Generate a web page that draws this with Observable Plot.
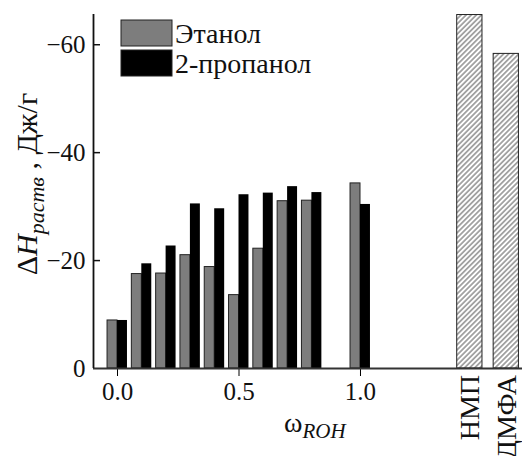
<!DOCTYPE html>
<html><head><meta charset="utf-8">
<script src="https://cdn.jsdelivr.net/npm/d3@7"></script>
<script src="https://cdn.jsdelivr.net/npm/@observablehq/plot@0.6"></script>
<style>
html,body{margin:0;padding:0;background:#fff}
svg{display:block}
</style>
</head><body><div id="chart"></div>
<script>
// ---- data ----
const omega = [0.0, 0.1, 0.2, 0.3, 0.4, 0.5, 0.6, 0.7, 0.8, 1.0];
const ethanol = [-8.9, -17.5, -17.6, -21.0, -18.8, -13.6, -22.2, -31.0, -31.1, -34.3];
const propanol = [-8.9, -19.4, -22.7, -30.5, -29.6, -32.2, -32.5, -33.7, -32.6, -30.4];
const solvents = ["НМП", "ДМФА"];
const solventValues = [-65.5, -58.3];
const seriesNames = ["Этанол", "2-пропанол"];
const xTicks = [0.0, 0.5, 1.0];
const yTicks = [0, -20, -40, -60];

// ---- layout ----
const W = 522, H = 456;
const FONT = "Liberation Serif";
const xDomain = [-0.0988, 1.6667];
const yDomain = [0, -65.6];
const bw = 0.041;          // width of one alcohol bar (x units)
const sHalf = 0.052;       // half width of solvent bars
const solvPos = solvents.map((s, i) => 1.45 + i * 0.15);

const ethData = omega.map((w, i) => ({w, v: ethanol[i]}));
const proData = omega.map((w, i) => ({w, v: propanol[i]}));
const solData = solvents.map((s, i) => ({s, p: solvPos[i], v: solventValues[i]}));

const minus = d => d === 0 ? "0" : "\u2212" + Math.abs(d);
const pxX = 7 * (xDomain[1] - xDomain[0]) / (W - 93);

const plot = Plot.plot({
  width: W, height: H,
  marginLeft: 93, marginRight: 0, marginTop: 14, marginBottom: 88,
  x: {domain: xDomain, ticks: xTicks, tickFormat: d3.format(".1f"), tickSize: 8, tickPadding: 6, label: null},
  y: {domain: yDomain, ticks: yTicks, tickFormat: minus, tickSize: 0, tickPadding: 8, label: null},
  marks: [
    Plot.rect(ethData, {x1: d => d.w - bw, x2: d => d.w, y1: 0, y2: "v", fill: "#7d7d7d", stroke: "#222", strokeWidth: 1}),
    Plot.rect(proData, {x1: d => d.w, x2: d => d.w + bw, y1: 0, y2: "v", fill: "#000"}),
    Plot.rect(solData, {x1: d => d.p - sHalf, x2: d => d.p + sHalf, y1: 0, y2: "v", fill: "url(#hatch)", stroke: "#222", strokeWidth: 1}),
    Plot.ruleY(yTicks.filter(d => d !== 0), {x1: xDomain[0], x2: xDomain[0] + pxX, stroke: "#111", strokeWidth: 1.5}),
    Plot.ruleY([0], {stroke: "#333", strokeWidth: 2}),
    Plot.ruleX([xDomain[0]], {y1: 0, y2: yDomain[1], stroke: "#111", strokeWidth: 1.8})
  ]
});
document.getElementById("chart").appendChild(plot);

const svg = d3.select(plot);
// plain presentation attributes only
svg.select("style").remove();
svg.attr("style", null).attr("class", null)
  .attr("font-family", FONT).attr("font-size", 24).attr("fill", "#111");
svg.insert("rect", ":first-child").attr("width", W).attr("height", H).attr("fill", "#fff");
const xs = plot.scale("x"), ys = plot.scale("y");
const defs = svg.insert("defs", ":first-child");
const pat = defs.append("pattern").attr("id", "hatch").attr("patternUnits", "userSpaceOnUse")
  .attr("width", 3.6).attr("height", 3.6).attr("patternTransform", "rotate(45)");
pat.append("rect").attr("width", 3.6).attr("height", 3.6).attr("fill", "#fff");
pat.append("line").attr("x1", 1.8).attr("x2", 1.8).attr("y1", 0).attr("y2", 3.6)
  .attr("stroke", "#444").attr("stroke-width", 0.9);

// legend
const legColors = ["#7d7d7d", "#000"];
seriesNames.forEach((name, i) => {
  const y0 = 20 + i * 30;
  svg.append("rect").attr("x", 121).attr("y", y0).attr("width", 51).attr("height", 26)
    .attr("fill", legColors[i]).attr("stroke", "#222").attr("stroke-width", 1);
  svg.append("text").attr("x", 175).attr("y", y0 + 23).attr("text-anchor", "start")
    .attr("font-size", 28).attr("fill", "#111").text(name);
});

// y label
const yl = svg.append("text").attr("transform", "translate(37,184) rotate(-90)")
  .attr("text-anchor", "middle").attr("font-size", 30).attr("fill", "#111");
yl.append("tspan").text("Δ");
yl.append("tspan").attr("font-style", "italic").text("H");
yl.append("tspan").attr("font-style", "italic").attr("font-size", 22).attr("dy", 7).text("раств");
yl.append("tspan").attr("dy", -7).text(" , Дж/г");

// x label
const xl = svg.append("text").attr("x", 284).attr("y", 432).attr("text-anchor", "start")
  .attr("font-size", 28).attr("fill", "#111");
xl.append("tspan").text("ω");
xl.append("tspan").attr("font-style", "italic").attr("font-size", 21).attr("dy", 6).text("ROH");

// solvent labels
solData.forEach(d => {
  svg.append("text")
    .attr("transform", `translate(${xs.apply(d.p)},${ys.apply(0) + 7}) rotate(-90)`)
    .attr("text-anchor", "end").attr("dy", "0.35em")
    .attr("font-size", 28).attr("fill", "#111").text(d.s);
});

// serif face and size on every text element, as attributes
svg.selectAll("text").attr("font-family", FONT);
svg.selectAll("g[aria-label$='tick label']").attr("font-size", 25).attr("font-variant", null);
</script>
</body></html>
